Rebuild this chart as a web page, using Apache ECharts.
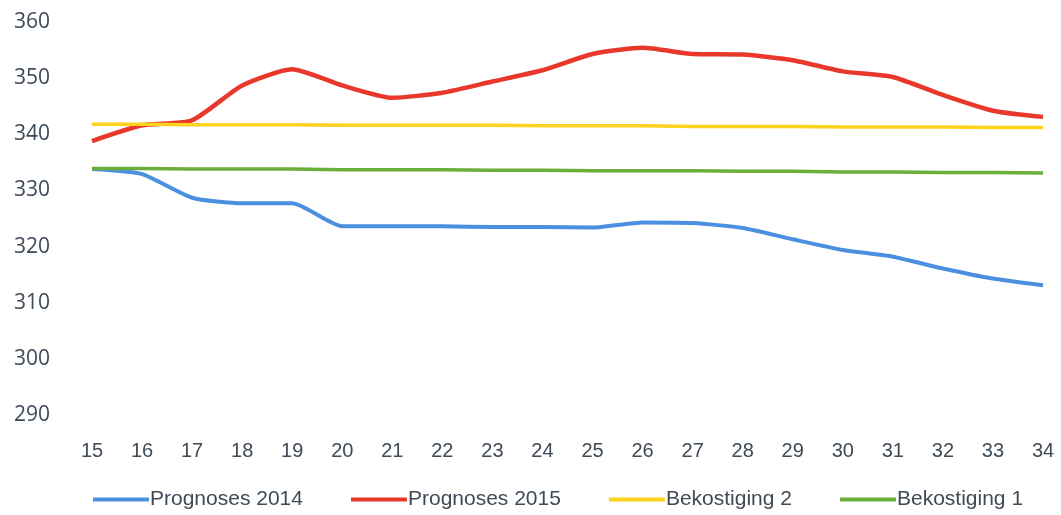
<!DOCTYPE html>
<html>
<head>
    <meta charset="utf-8">
    <title>Prognoses</title>
    <script src="https://cdn.jsdelivr.net/npm/echarts@6/dist/echarts.min.js"></script>
    <style>body{margin:0;background:#fff}</style>
</head>
<body>
<div id="main" style="width: 1061px;height:515px;"></div>
<script>
    var weeks = ['15','16','17','18','19','20','21','22','23','24','25','26','27','28','29','30','31','32','33','34'];
    var prog2014 = [333.8,332.9,328.7,327.7,327.7,323.6,323.6,323.6,323.5,323.5,323.4,324.3,324.2,323.3,321.3,319.4,318.2,316.1,314.3,313.1];
    var prog2015 = [338.8,341.6,342.5,348.7,351.6,348.7,346.5,347.4,349.4,351.4,354.3,355.4,354.3,354.2,353.2,351.2,350.2,347.0,344.2,343.1];
    var bek2 = [341.8,341.8,341.7,341.7,341.7,341.6,341.6,341.6,341.6,341.5,341.5,341.5,341.4,341.4,341.4,341.3,341.3,341.3,341.2,341.2];
    var bek1 = [333.9,333.9,333.8,333.8,333.8,333.7,333.7,333.7,333.6,333.6,333.5,333.5,333.5,333.4,333.4,333.3,333.3,333.2,333.2,333.1];

    var txt = '#3e4a56';
    var fam = '"Liberation Sans Narrow", "Liberation Sans", sans-serif';
    var myChart = echarts.init(document.getElementById('main'));
    myChart.setOption({
        animation: false,
        grid: { left: 92, right: 18, top: 22, bottom: 100 },
        legend: {
            bottom: 0,
            left: 88,
            itemWidth: 56,
            itemHeight: 4,
            itemGap: 48,
            icon: 'rect',
            textStyle: { color: txt, fontSize: 21, fontFamily: fam, padding: [0, 0, 0, -4] },
            data: ['Prognoses 2014', 'Prognoses 2015', 'Bekostiging 2', 'Bekostiging 1']
        },
        xAxis: {
            type: 'category',
            boundaryGap: false,
            data: weeks,
            axisLine: { show: false },
            axisTick: { show: false },
            axisLabel: { color: txt, fontSize: 20, fontFamily: fam, margin: 26 }
        },
        yAxis: {
            type: 'value',
            min: 290,
            max: 360,
            interval: 10,
            splitLine: { show: false },
            axisLabel: { color: txt, fontSize: 21, fontFamily: '"Open Sans", sans-serif', margin: 42, align: 'left', padding: [0, 0, 0, -36] }
        },
        series: [
            { name: 'Prognoses 2014', type: 'line', data: prog2014, smooth: 0.2, symbol: 'none', lineStyle: { width: 4, color: '#4a8fe0' }, itemStyle: { color: '#4a8fe0' } },
            { name: 'Prognoses 2015', type: 'line', data: prog2015, smooth: 0.2, symbol: 'none', lineStyle: { width: 4.5, color: '#e8382c' }, itemStyle: { color: '#e8382c' } },
            { name: 'Bekostiging 2', type: 'line', data: bek2, symbol: 'none', lineStyle: { width: 3.5, color: '#fcd21c' }, itemStyle: { color: '#fcd21c' } },
            { name: 'Bekostiging 1', type: 'line', data: bek1, symbol: 'none', lineStyle: { width: 3.5, color: '#6aae3a' }, itemStyle: { color: '#6aae3a' } }
        ]
    });
</script>
</body>
</html>
